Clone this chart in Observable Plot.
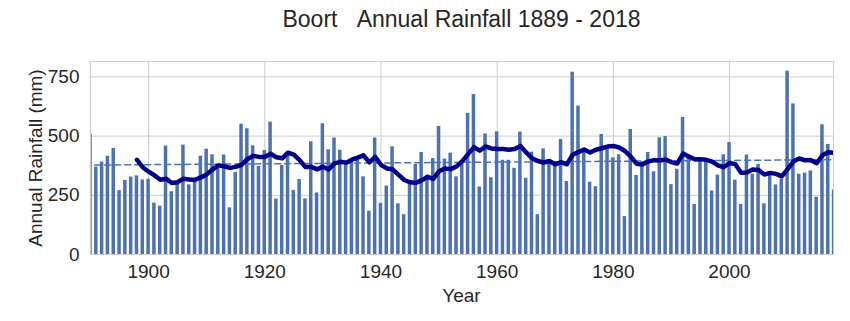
<!DOCTYPE html>
<html><head><meta charset="utf-8">
<script src="https://cdn.jsdelivr.net/npm/d3@7"></script>
<script src="https://cdn.jsdelivr.net/npm/@observablehq/plot@0.6"></script>
<style>
body{margin:0;background:#fff;font-family:"Liberation Sans",Arial,sans-serif;}
#wrap{position:relative;width:850px;height:321px;}
.lbl{position:absolute;color:#262626;white-space:nowrap;}
</style></head><body>
<div id="wrap">
<div class="lbl" id="title" style="left:90px;width:743px;top:6px;text-align:center;font-size:23px;">Boort&nbsp;&nbsp;&nbsp;Annual Rainfall 1889 - 2018</div>
<div class="lbl" id="xlabel" style="left:90px;width:743px;top:285px;text-align:center;font-size:19px;">Year</div>
<div class="lbl" id="ylabel" style="left:36px;top:158px;transform:translate(-50%,-50%) rotate(-90deg);font-size:19px;">Annual Rainfall (mm)</div>
</div>
<script>
const startYear = 1889;
const rainfall = [
  628, 508, 369, 390, 415, 448, 270, 313, 327, 332,
  315, 318, 217, 204, 458, 265, 305, 462, 294, 318,
  415, 445, 421, 380, 420, 197, 347, 550, 531, 459,
  372, 439, 559, 234, 376, 430, 270, 317, 235, 476,
  260, 552, 442, 492, 440, 395, 395, 405, 328, 183,
  492, 216, 289, 455, 214, 168, 300, 380, 431, 335,
  405, 541, 403, 428, 328, 390, 596, 676, 285, 509,
  324, 518, 398, 398, 364, 517, 322, 432, 168, 446,
  385, 380, 486, 308, 770, 627, 432, 305, 286, 507,
  455, 408, 421, 160, 528, 334, 392, 431, 349, 493,
  498, 295, 360, 579, 410, 211, 400, 405, 268, 335,
  421, 473, 314, 211, 420, 339, 380, 214, 339, 294,
  318, 774, 636, 339, 344, 353, 242, 548, 465, 272
];
const xTicks = [1900, 1920, 1940, 1960, 1980, 2000];
const yTicks = [0, 250, 500, 750];
const windowSize = 10;

const data = rainfall.map((r, i) => ({year: startYear + i, rain: r}));
const maData = data.slice(windowSize - 1).map((d, j) => ({
  year: d.year,
  ma: d3.mean(rainfall.slice(j, j + windowSize))
}));

const chart = Plot.plot({
  width: 850, height: 321,
  marginLeft: 90, marginRight: 17, marginTop: 61, marginBottom: 67,
  style: {fontFamily: "Liberation Sans, Arial, sans-serif", fontSize: "19px", color: "#262626", background: "transparent"},
  x: {domain: [1890.0, 2017.9], ticks: xTicks, tickFormat: d => String(d), tickSize: 0, tickPadding: 10, label: null},
  y: {domain: [0, 815], ticks: yTicks, tickSize: 0, tickPadding: 11, label: null},
  marks: [
    Plot.ruleX(xTicks, {stroke: "#cccccc", strokeWidth: 1}),
    Plot.ruleY(yTicks, {stroke: "#cccccc", strokeWidth: 1}),
    Plot.rectY(data, {x1: d => d.year - 0.3, x2: d => d.year + 0.3, y: "rain", fill: "#4c72b0", clip: true}),
    Plot.linearRegressionY(data, {x: "year", y: "rain", stroke: "#4c72b0", strokeWidth: 1.5, strokeDasharray: "6,4", ci: 0, clip: true}),
    Plot.line(maData, {x: "year", y: "ma", stroke: "#00008b", strokeWidth: 4.5, strokeLinejoin: "round", clip: true}),
    Plot.frame({stroke: "#cccccc"})
  ]
});
chart.style.position = "absolute";
chart.style.left = "0px";
chart.style.top = "0px";
document.getElementById("wrap").prepend(chart);
</script>
</body></html>
